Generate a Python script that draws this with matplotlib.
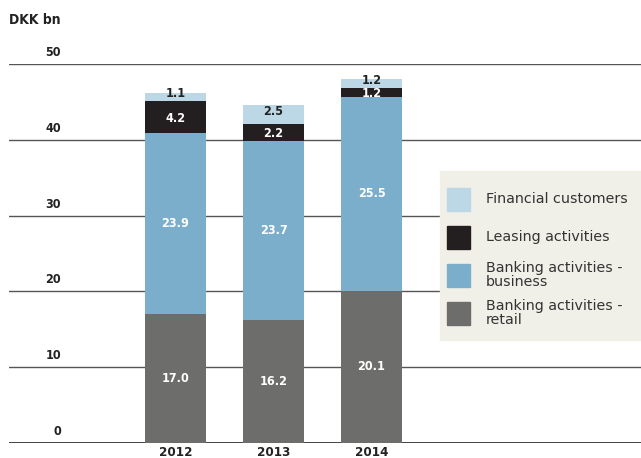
import matplotlib
matplotlib.use("Agg")
import matplotlib.pyplot as plt
from matplotlib.patches import Rectangle
import numpy as np

years = ["2012", "2013", "2014"]
retail = [17.0, 16.2, 20.1]
business = [23.9, 23.7, 25.5]
leasing = [4.2, 2.2, 1.2]
financial = [1.1, 2.5, 1.2]
series_names = ["Financial customers", "Leasing activities",
                "Banking activities -\nbusiness", "Banking activities -\nretail"]
yticks = [0, 10, 20, 30, 40, 50]

c_retail = "#6d6e6c"
c_business = "#7aaecb"
c_leasing = "#231f20"
c_fin = "#bcd7e6"
legend_bg = "#f1f0e8"

W, H = 641, 458
fig = plt.figure(figsize=(W / 100, H / 100), dpi=100)
ax = fig.add_axes([9 / W, 1 - 443 / H, 1 - 9 / W, (443 - 64) / H])
ax.set_xlim(-1.699, 4.75)
ax.set_ylim(0, 50)
for s in ax.spines.values():
    s.set_visible(False)
ax.set_xticks([])
ax.set_yticks([])

font = dict(family="DejaVu Sans", fontweight="bold", fontstretch="condensed")

for t in yticks:
    ax.axhline(t, color="#222222" if t == 0 else "#555555", lw=1.2 if t == 0 else 1.0, zorder=1)
    ax.annotate(str(t), xy=(0, t), xycoords=("axes fraction", "data"),
                xytext=(52, 5), textcoords="offset pixels",
                ha="right", va="bottom", fontsize=9, color="#222222", **font)

x = np.arange(len(years))
w = 0.622
stack = [(retail, c_retail, "white", 0), (business, c_business, "white", 0),
         (leasing, c_leasing, "white", -1), (financial, c_fin, "#222222", 3)]
bottom = np.zeros(len(years))
for vals, col, tcol, dy in stack:
    vals = np.array(vals)
    ax.bar(x, vals, w, bottom=bottom, color=col, zorder=2)
    for xi, b, v in zip(x, bottom, vals):
        ax.annotate(f"{v:.1f}", xy=(xi, b + v / 2), xytext=(0, dy),
                    textcoords="offset pixels", ha="center", va="center",
                    color=tcol, fontsize=9, zorder=3, **font)
    bottom = bottom + vals

for xi, yr in zip(x, years):
    ax.annotate(yr, xy=(xi, 0), xycoords="data", xytext=(0, -3),
                textcoords="offset pixels", ha="center", va="top",
                fontsize=9.5, color="#222222", **font)

fig.text(9 / W, 1 - 20 / H, "DKK bn", ha="left", va="center", fontsize=10,
         color="#222222", **font)

# legend panel
fig.patches.append(Rectangle((440 / W, 1 - 340 / H), (W - 440) / W, (340 - 171) / H,
                             transform=fig.transFigure, color=legend_bg, zorder=5))
legend_cols = [c_fin, c_leasing, c_business, c_retail]
ys = [199, 237, 275, 313]
for name, col, yy in zip(series_names, legend_cols, ys):
    fig.patches.append(Rectangle((447 / W, 1 - (yy + 11.5) / H), 23 / W, 23 / H,
                                 transform=fig.transFigure, color=col, zorder=6))
    fig.text(486 / W, 1 - yy / H, name, ha="left", va="center", fontsize=10.3,
             color="#333333", linespacing=0.95, zorder=7, family="DejaVu Sans")

fig.savefig("out.png", dpi=100)
